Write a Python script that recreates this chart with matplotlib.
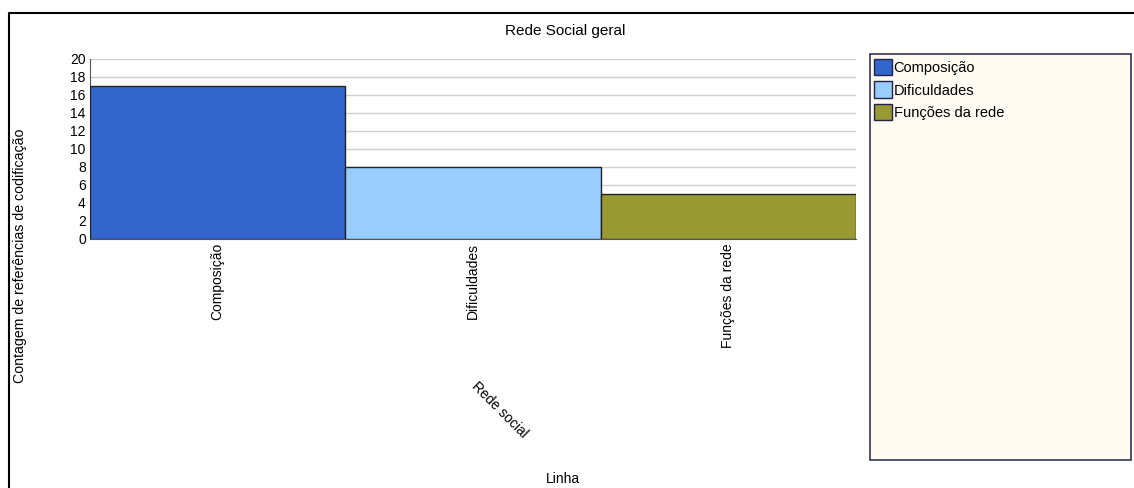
import matplotlib.pyplot as plt
from matplotlib.patches import Patch
from matplotlib.lines import Line2D
import numpy as np

plt.rcParams['font.family'] = ['Liberation Sans', 'DejaVu Sans']

# dados do gráfico
categorias = ['Composição', 'Dificuldades', 'Funções da rede']
contagem = [17, 8, 5]
cores = ['#3366CC', '#99CCFF', '#999933']
yticks = list(range(0, 21, 2))

W, H = 1134, 488
fig = plt.figure(figsize=(W / 100, H / 100), dpi=100)

# moldura externa (só esquerda e topo aparecem)
fig.lines.append(Line2D([8.5/W, 8.5/W, 1], [0, 1 - 12.5/H, 1 - 12.5/H],
                        transform=fig.transFigure, color='black', linewidth=1.5))

ax = fig.add_axes([90/W, 1 - 239/H, (856 - 90)/W, (239 - 59)/H])
x = np.arange(len(categorias))
ax.bar(x, contagem, width=1.0, color=cores, edgecolor='#222222', linewidth=1, zorder=3)
ax.set_xlim(-0.5, len(categorias) - 0.5)
ax.set_ylim(0, 20)
ax.set_yticks(yticks)
ax.set_yticklabels([str(v) for v in yticks], fontsize=10)
ax.set_xticks(x)
ax.set_xticklabels(categorias, rotation=90, fontsize=10, va='top')
ax.tick_params(axis='both', length=0, pad=3)
ax.grid(axis='y', color='#D0D0D0', linewidth=1, zorder=0)
for s in ['top', 'right']:
    ax.spines[s].set_visible(False)
ax.spines['left'].set_color('#555555')
ax.spines['bottom'].set_color('#555555')

fig.text(565/W, 1 - 31/H, 'Rede Social geral', ha='center', va='center', fontsize=11)
fig.text(20/W, 1 - 256/H, 'Contagem de referências de codificação', rotation=90,
         ha='center', va='center', fontsize=10.2)
fig.text(500/W, 1 - 410/H, 'Rede social', rotation=-45, ha='center', va='center', fontsize=10)
fig.text(563/W, 1 - 479/H, 'Linha', ha='center', va='center', fontsize=10)

# caixa da legenda
lx0, ly0, lx1, ly1 = 870, 54, 1131, 460
fig.patches.append(plt.Rectangle((lx0/W, 1 - ly1/H), (lx1 - lx0)/W, (ly1 - ly0)/H,
                                 transform=fig.transFigure, facecolor='#FFFBF2',
                                 edgecolor='#333355', linewidth=1.2))
handles = [Patch(facecolor=c, edgecolor='#222244', label=l) for c, l in zip(cores, categorias)]
fig.legend(handles=handles, loc='upper left', bbox_to_anchor=(874/W, 1 - 59/H),
           frameon=False, fontsize=10.5, handlelength=1.25, handleheight=1.35,
           handletextpad=0.1, labelspacing=0.42, borderpad=0, borderaxespad=0)

fig.savefig('out.png', dpi=100)
